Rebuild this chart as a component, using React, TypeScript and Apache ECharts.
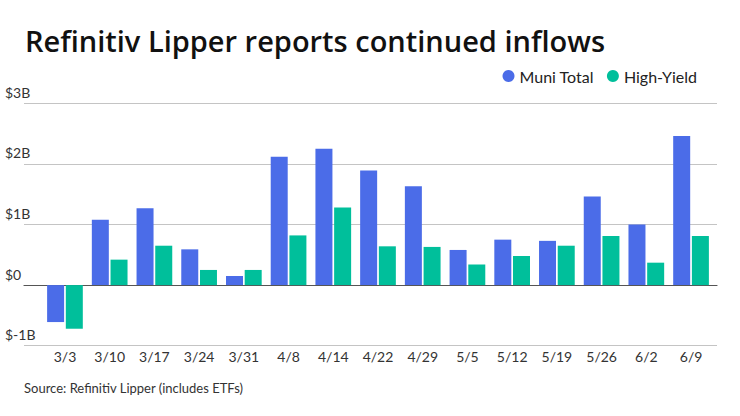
import React, { useEffect, useRef } from "react";
import * as echarts from "echarts";

const categories = ["3/3", "3/10", "3/17", "3/24", "3/31", "4/8", "4/14", "4/22", "4/29", "5/5", "5/12", "5/19", "5/26", "6/2", "6/9"];
const muniTotal = [-0.61, 1.08, 1.27, 0.59, 0.15, 2.12, 2.25, 1.89, 1.63, 0.58, 0.75, 0.73, 1.46, 1.0, 2.46];
const highYield = [-0.72, 0.42, 0.65, 0.25, 0.25, 0.82, 1.28, 0.64, 0.63, 0.34, 0.48, 0.65, 0.81, 0.37, 0.81];
const yTickLabels: Record<string, string> = { "-1": "$-1B", "0": "$0", "1": "$1B", "2": "$2B", "3": "$3B" };

const FONT = "Lato, 'Noto Sans', sans-serif";
const TITLE_FONT = "'Open Sans', Lato, sans-serif";
const BLUE = "#4b6ce8";
const GREEN = "#00bf9b";

export default function App() {
  const ref = useRef<HTMLDivElement>(null);
  useEffect(() => {
    document.body.style.margin = "0";
    if (!ref.current) return;
    const chart = echarts.init(ref.current, null, { renderer: "svg" });
    const gridTop = 103.3;
    const gridBottom = 70.3;
    chart.setOption({
      animation: false,
      backgroundColor: "#ffffff",
      textStyle: { fontFamily: FONT },
      title: {
        text: "Refinitiv Lipper reports continued inflows",
        left: 20,
        top: 21,
        textStyle: { fontFamily: TITLE_FONT, fontSize: 29, fontWeight: 600, color: "#111111" },
      },
      legend: {
        right: 38,
        top: 63,
        icon: "circle",
        itemWidth: 12,
        itemHeight: 12,
        itemGap: 13,
        textStyle: { fontFamily: FONT, fontSize: 16, color: "#222222" },
        data: ["Muni Total", "High-Yield"],
      },
      graphic: [
        {
          type: "text",
          left: 24,
          top: 381,
          style: { text: "Source: Refinitiv Lipper (includes ETFs)", fontFamily: FONT, fontSize: 13, fill: "#333333" },
        },
      ],
      grid: [
        { left: 24, right: 23, top: gridTop, bottom: gridBottom },
        { left: 42.6, right: 26.6, top: gridTop, bottom: gridBottom },
      ],
      xAxis: [
        {
          gridIndex: 0,
          type: "value",
          min: 0,
          max: 1,
          axisLine: { show: true, onZero: true, lineStyle: { color: "#555555", width: 1.2 } },
          axisTick: { show: false },
          axisLabel: { show: false },
          splitLine: { show: false },
        },
        {
          gridIndex: 1,
          type: "category",
          data: categories,
          axisLine: { show: false },
          axisTick: { show: false },
          axisLabel: { fontFamily: FONT, fontSize: 14, color: "#333333", margin: 4, verticalAlign: "top" },
        },
      ],
      yAxis: [
        {
          gridIndex: 0,
          type: "value",
          min: -1,
          max: 3,
          interval: 1,
          axisLine: { show: false },
          axisTick: { show: false },
          axisLabel: {
            align: "left",
            margin: 19,
            verticalAlign: "bottom",
            padding: [0, 0, 4, 0],
            fontFamily: FONT,
            fontSize: 14,
            color: "#333333",
            formatter: (v: number) => yTickLabels[String(v)] ?? "",
          },
          splitLine: { show: true, lineStyle: { color: "#c4c4c4", width: 1 } },
        },
        {
          gridIndex: 1,
          type: "value",
          min: -1,
          max: 3,
          interval: 1,
          axisLine: { show: false },
          axisTick: { show: false },
          axisLabel: { show: false },
          splitLine: { show: false },
        },
      ],
      series: [
        {
          name: "Muni Total",
          type: "bar",
          xAxisIndex: 1,
          yAxisIndex: 1,
          data: muniTotal,
          barWidth: 17,
          barGap: "10%",
          itemStyle: { color: BLUE },
          z: 3,
        },
        {
          name: "High-Yield",
          type: "bar",
          xAxisIndex: 1,
          yAxisIndex: 1,
          data: highYield,
          barWidth: 17,
          barGap: "10%",
          itemStyle: { color: GREEN },
          z: 3,
        },
      ],
    });
    return () => chart.dispose();
  }, []);
  return <div ref={ref} style={{ width: 740, height: 416 }} />;
}
